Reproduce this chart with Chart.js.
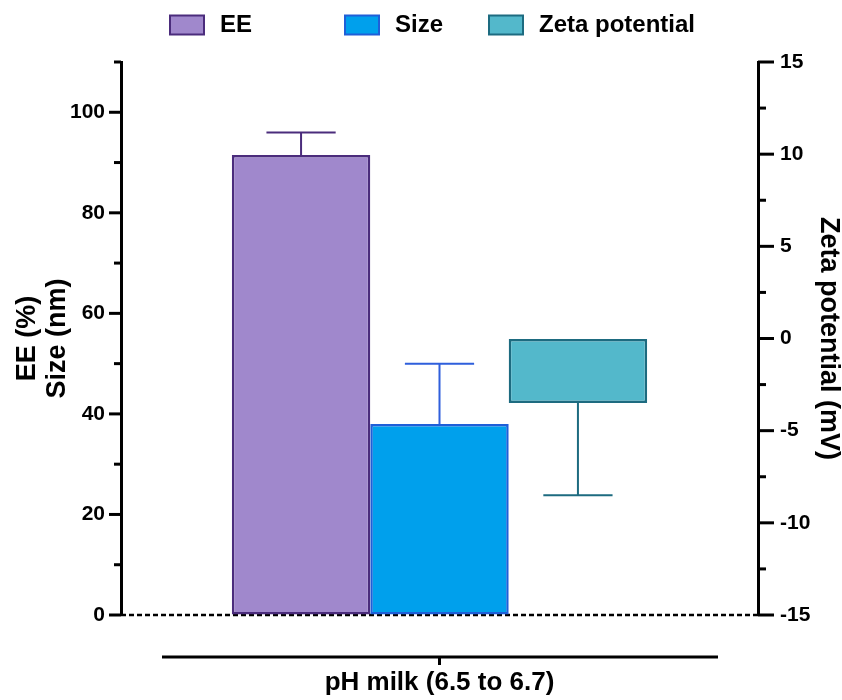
<!DOCTYPE html>
<html>
<head>
<meta charset="utf-8">
<script src="https://cdn.jsdelivr.net/npm/chart.js@4.4.1/dist/chart.umd.min.js"></script>
<style>
  html, body { margin: 0; padding: 0; background: #ffffff; }
  #wrap { width: 842px; height: 700px; position: relative; }
</style>
</head>
<body>
<div id="wrap"><canvas id="chart"></canvas></div>
<script>
// Single category on the x axis
const categories = ['pH milk (6.5 to 6.7)'];

// Series: mean and SD
const eeValues = [91.5];
const eeErrors = [4.5];
const sizeValues = [38.0];
const sizeErrors = [12.0];
const zetaValues = [-3.5];
const zetaErrors = [5.0];

// Labelled tick values of the two y axes
const leftTickLabels = [0, 20, 40, 60, 80, 100];
const rightTickLabels = [-15, -10, -5, 0, 5, 10, 15];

const FONT = '"Liberation Sans", Arial, sans-serif';

// Draws SD whiskers away from the zero line, cap half as wide as the bar
const errorBars = {
  id: 'errorBars',
  afterDatasetsDraw(chart) {
    const ctx = chart.ctx;
    chart.data.datasets.forEach((ds, i) => {
      const meta = chart.getDatasetMeta(i);
      const scale = chart.scales[ds.yAxisID];
      meta.data.forEach((bar, j) => {
        const v = ds.data[j];
        const e = ds.errors[j];
        const end = v >= 0 ? v + e : v - e;
        const y0 = scale.getPixelForValue(v);
        const y1 = scale.getPixelForValue(end);
        const half = bar.width / 4;
        ctx.save();
        ctx.strokeStyle = ds.errorColor;
        ctx.lineWidth = 2;
        ctx.beginPath();
        ctx.moveTo(bar.x, y0);
        ctx.lineTo(bar.x, y1);
        ctx.moveTo(bar.x - half, y1);
        ctx.lineTo(bar.x + half, y1);
        ctx.stroke();
        ctx.restore();
      });
    });
  }
};

// Dotted baseline at zero
const zeroLine = {
  id: 'zeroLine',
  beforeDatasetsDraw(chart) {
    const ctx = chart.ctx;
    const y = chart.scales.y.getPixelForValue(0);
    const { left, right } = chart.chartArea;
    ctx.save();
    ctx.strokeStyle = '#000';
    ctx.lineWidth = 2.5;
    ctx.setLineDash([5, 3]);
    ctx.beginPath();
    ctx.moveTo(left, y);
    ctx.lineTo(right, y);
    ctx.stroke();
    ctx.restore();
  }
};

// Major / minor tick marks on both y axes
const tickMarks = {
  id: 'tickMarks',
  afterDraw(chart, args, opts) {
    const ctx = chart.ctx;
    ctx.save();
    ctx.strokeStyle = '#000';
    ctx.lineWidth = 3;
    opts.axes.forEach(a => {
      const s = chart.scales[a.id];
      const x0 = a.dir < 0 ? s.right : s.left;
      s.ticks.forEach(t => {
        const len = a.labels.includes(t.value) ? a.major : a.minor;
        const y = s.getPixelForValue(t.value);
        ctx.beginPath();
        ctx.moveTo(x0, y);
        ctx.lineTo(x0 + a.dir * len, y);
        ctx.stroke();
      });
    });
    ctx.restore();
  }
};

// Detached category axis line below the plot
const categoryAxis = {
  id: 'categoryAxis',
  afterDraw(chart) {
    const ctx = chart.ctx;
    const { left, right, bottom } = chart.chartArea;
    const y = bottom + 42;
    const xc = chart.scales.x.getPixelForValue(0);
    ctx.save();
    ctx.strokeStyle = '#000';
    ctx.lineWidth = 3;
    ctx.beginPath();
    ctx.moveTo(left + 41, y);
    ctx.lineTo(right - 40, y);
    ctx.moveTo(xc, y);
    ctx.lineTo(xc, y + 8);
    ctx.stroke();
    ctx.restore();
  }
};

// Legend row across the top
const legendRow = {
  id: 'legendRow',
  afterDraw(chart, args, opts) {
    const ctx = chart.ctx;
    ctx.save();
    chart.data.datasets.forEach((ds, i) => {
      const x = opts.starts[i];
      ctx.fillStyle = ds.backgroundColor;
      ctx.strokeStyle = ds.borderColor;
      ctx.lineWidth = 2;
      ctx.fillRect(x, opts.y - 9.5, 34, 19);
      ctx.strokeRect(x, opts.y - 9.5, 34, 19);
      ctx.fillStyle = '#000';
      ctx.font = 'bold 24px ' + FONT;
      ctx.textBaseline = 'middle';
      ctx.textAlign = 'left';
      ctx.fillText(ds.label, x + 50, opts.y);
    });
    ctx.restore();
  }
};

const axisGrid = {
  display: true,
  drawOnChartArea: false,
  drawTicks: true,
  color: 'rgba(0,0,0,0)',
  tickColor: 'rgba(0,0,0,0)'
};

new Chart(document.getElementById('chart'), {
  type: 'bar',
  data: {
    labels: categories,
    datasets: [
      {
        label: 'EE', data: eeValues, errors: eeErrors, yAxisID: 'y',
        backgroundColor: '#A088CC', borderColor: '#4B2C7C', errorColor: '#4B2C7C',
        borderWidth: 2.5, borderSkipped: false
      },
      {
        label: 'Size', data: sizeValues, errors: sizeErrors, yAxisID: 'y',
        backgroundColor: '#00A0EC', borderColor: '#1F5FD8', errorColor: '#2F5FDC',
        borderWidth: 2.5, borderSkipped: false
      },
      {
        label: 'Zeta potential', data: zetaValues, errors: zetaErrors, yAxisID: 'y2',
        backgroundColor: '#53B8CB', borderColor: '#1D6B80', errorColor: '#1D6B80',
        borderWidth: 2.5, borderSkipped: false
      }
    ]
  },
  options: {
    responsive: true,
    maintainAspectRatio: false,
    animation: false,
    devicePixelRatio: 1,
    layout: { padding: { top: 62, left: 0, right: 0, bottom: 0 } },
    datasets: { bar: { categoryPercentage: 0.652, barPercentage: 1.0 } },
    plugins: {
      legend: { display: false },
      tooltip: { enabled: false },
      legendRow: { starts: [170, 345, 489], y: 25 },
      tickMarks: {
        axes: [
          { id: 'y', dir: -1, major: 12, minor: 7, labels: leftTickLabels },
          { id: 'y2', dir: 1, major: 16, minor: 8, labels: rightTickLabels }
        ]
      }
    },
    scales: {
      x: {
        type: 'category',
        offset: true,
        grid: { display: false, drawTicks: false },
        border: { display: false },
        ticks: {
          color: '#000', padding: 52,
          font: { family: FONT, size: 26, weight: 'bold' }
        },
        afterFit(s) { s.height = 85; }
      },
      y: {
        position: 'left',
        min: 0, max: 110,
        grid: Object.assign({}, axisGrid, { tickLength: 12 }),
        border: { display: true, color: '#000', width: 3 },
        ticks: {
          stepSize: 10, color: '#000', padding: 4,
          font: { family: FONT, size: 21, weight: 'bold' },
          callback: v => leftTickLabels.includes(v) ? String(v) : ''
        },
        title: {
          display: true, text: ['EE (%)', 'Size (nm)'], color: '#000',
          font: { family: FONT, size: 27, weight: 'bold', lineHeight: 1.11 },
          padding: { top: 13, bottom: 0 }
        },
        afterFit(s) { s.width = 121; }
      },
      y2: {
        position: 'right',
        min: -15, max: 15,
        grid: Object.assign({}, axisGrid, { tickLength: 16 }),
        border: { display: true, color: '#000', width: 3 },
        ticks: {
          stepSize: 2.5, color: '#000', padding: 6,
          font: { family: FONT, size: 21, weight: 'bold' },
          callback: v => rightTickLabels.includes(v) ? String(v) : ''
        },
        title: {
          display: true, text: 'Zeta potential (mV)', color: '#000',
          font: { family: FONT, size: 27, weight: 'bold', lineHeight: 1.0 },
          padding: { top: 0, bottom: 0 }
        },
        afterFit(s) { s.width = 84; }
      }
    }
  },
  plugins: [zeroLine, errorBars, tickMarks, categoryAxis, legendRow]
});
</script>
</body>
</html>
